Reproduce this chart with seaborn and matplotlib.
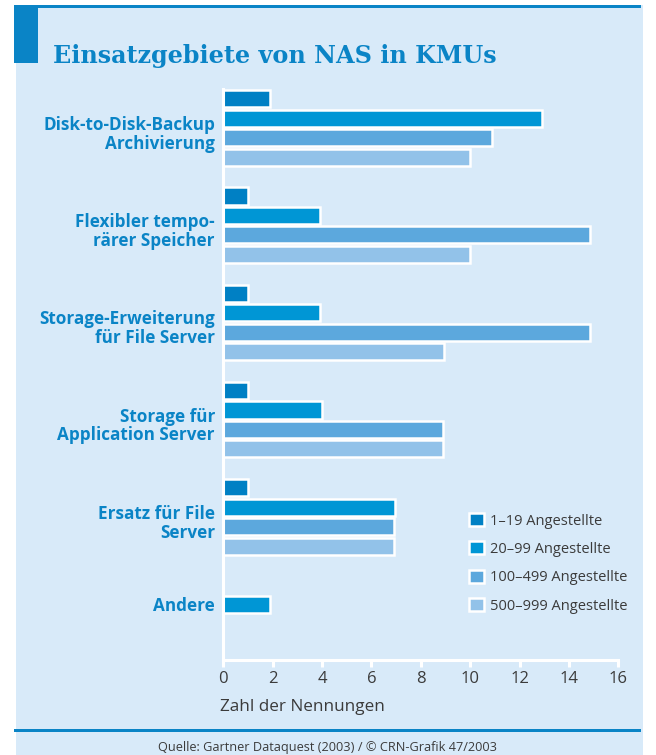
import numpy as np
import pandas as pd
import matplotlib
matplotlib.use("Agg")
import matplotlib.pyplot as plt
import matplotlib.transforms as mtransforms
import seaborn as sns
from matplotlib.patches import Rectangle

# ---- data ----
categories = [
    "Disk-to-Disk-Backup\nArchivierung",
    "Flexibler tempo-\nrärer Speicher",
    "Storage-Erweiterung\nfür File Server",
    "Storage für\nApplication Server",
    "Ersatz für File\nServer",
    "Andere",
]
groups = ["1–19 Angestellte", "20–99 Angestellte", "100–499 Angestellte", "500–999 Angestellte"]
v_1_19 = [1.9, 1.0, 1.0, 1.0, 1.0, np.nan]
v_20_99 = [12.9, 3.9, 3.9, 4.0, 6.95, 1.9]
v_100_499 = [10.9, 14.85, 14.85, 8.9, 6.9, np.nan]
v_500_999 = [10.0, 10.0, 8.95, 8.9, 6.9, np.nan]
x_ticks = [0, 2, 4, 6, 8, 10, 12, 14, 16]

title = "Einsatzgebiete von NAS in KMUs"
xlabel = "Zahl der Nennungen"
footer = "Quelle: Gartner Dataquest (2003) / © CRN-Grafik 47/2003"

colors = ["#0080c4", "#0096d5", "#5ca8dd", "#92c2e9"]
BG = "#d8eaf9"
BLUE = "#0a84c6"
DARK = "#3b3b3b"

rows = []
for g, vals in zip(groups, [v_1_19, v_20_99, v_100_499, v_500_999]):
    for c, v in zip(categories, vals):
        rows.append({"cat": c, "group": g, "val": v})
df = pd.DataFrame(rows).dropna()

sns.set_theme(style="white")
plt.rcParams["font.family"] = ["Open Sans", "DejaVu Sans"]

W, H = 656, 755
fig = plt.figure(figsize=(W / 100, H / 100), dpi=100, facecolor="white")

def fr(x0, y0, x1, y1, color, z):
    fig.patches.append(Rectangle((x0 / W, 1 - y1 / H), (x1 - x0) / W, (y1 - y0) / H,
                                 transform=fig.transFigure, facecolor=color,
                                 edgecolor="none", zorder=z))

fr(16, 5, 643, 755, BG, -3)
fr(14, 5, 641, 8, BLUE, -2)
fr(14, 5, 38, 63, BLUE, -2)
fr(14, 728.5, 641, 731.5, BLUE, -2)

ax_left, ax_right, ax_top, ax_bottom = 223.3, 618.3, 89, 660
ax = fig.add_axes([ax_left / W, 1 - ax_bottom / H, (ax_right - ax_left) / W, (ax_bottom - ax_top) / H])
ax.set_facecolor("none")
ax.set_zorder(1)

sns.barplot(data=df, y="cat", x="val", hue="group", order=categories, hue_order=groups,
            palette=colors, orient="h", width=0.8, gap=0.12, errorbar=None,
            edgecolor="white", linewidth=1.8, saturation=1, ax=ax)

ax.set_xlim(0, 16)
ax.set_ylim(5.47, -0.40)
ax.set_xticks(x_ticks)
ax.set_xticklabels([str(t) for t in x_ticks])
for s in ["top", "right"]:
    ax.spines[s].set_visible(False)
for s in ["left", "bottom"]:
    ax.spines[s].set_color("white")
    ax.spines[s].set_linewidth(2.2)
ax.tick_params(axis="x", bottom=True, length=5, width=2.2, color="white", pad=3,
               labelsize=12, labelcolor=DARK)
ax.tick_params(axis="y", left=False, length=0, pad=6)
for i, lab in enumerate(ax.get_yticklabels()):
    lab.set_fontweight("bold")
    lab.set_color(BLUE)
    lab.set_fontsize(12.3)
    lab.set_linespacing(1.05)
    lab.set_ha("right")
    dy = -4 if "\n" in lab.get_text() else 10
    lab.set_transform(lab.get_transform() + mtransforms.ScaledTranslation(0, dy / 100, fig.dpi_scale_trans))

ax.set_ylabel("")
ax.set_xlabel(xlabel, fontsize=12.3, color=DARK, ha="left", va="baseline")
ax.xaxis.set_label_coords((220 - ax_left) / (ax_right - ax_left), -(710.7 - ax_bottom) / (ax_bottom - ax_top))

handles, labels = ax.get_legend_handles_labels()
ax.legend(handles, labels, loc="upper left", bbox_to_anchor=(469 / W, 1 - 513 / H),
          bbox_transform=fig.transFigure, frameon=False, fontsize=10.5,
          handlelength=1.0, handleheight=1.0, handletextpad=0.45,
          labelspacing=0.88, borderpad=0, borderaxespad=0, labelcolor=DARK)

fig.text(53 / W, 1 - 63 / H, title, family="DejaVu Serif", weight="bold", fontsize=17.2,
         color=BLUE, ha="left", va="baseline")
fig.text(328 / W, 1 - 751.5 / H, footer, fontsize=9.2, color=DARK, ha="center", va="baseline")

fig.savefig("out.png", dpi=100, facecolor="white")
